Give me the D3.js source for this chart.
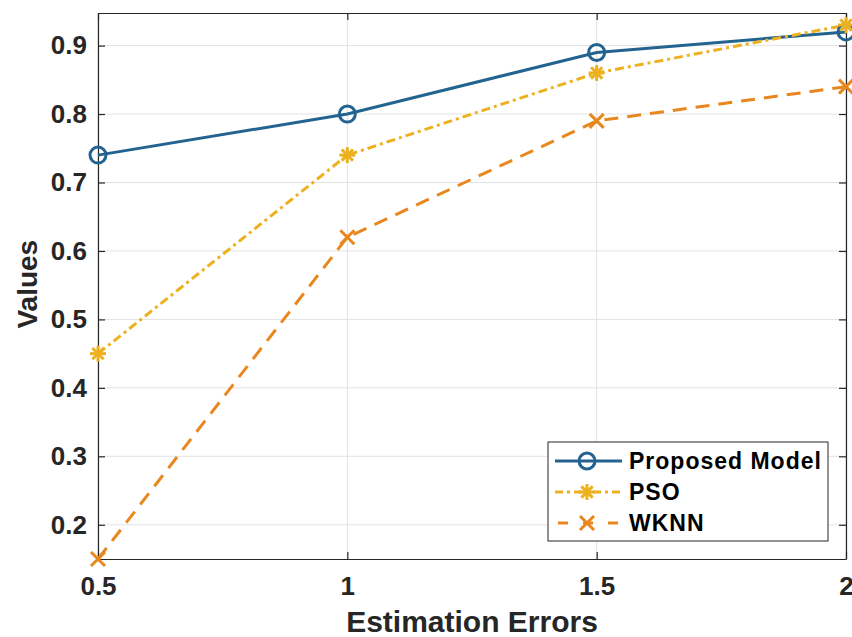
<!DOCTYPE html>
<html>
<head>
<meta charset="utf-8">
<script src="https://cdn.jsdelivr.net/npm/d3@7"></script>
<style>
  body { margin: 0; background: #fff; }
  text { font-family: "Liberation Sans", Arial, sans-serif; font-weight: bold; }
</style>
</head>
<body>
<div id="chart"></div>
<script>
// chart data
const xValues = [0.5, 1, 1.5, 2];
const xTicks = [0.5, 1, 1.5, 2];
const yTicks = [0.2, 0.3, 0.4, 0.5, 0.6, 0.7, 0.8, 0.9];
const proposedModel = [0.74, 0.80, 0.89, 0.92];
const pso = [0.45, 0.74, 0.86, 0.93];
const wknn = [0.15, 0.62, 0.79, 0.84];
const seriesNames = ["Proposed Model", "PSO", "WKNN"];

const width = 852, height = 637;
const margin = {left: 98, right: 6, top: 13, bottom: 78};

const svg = d3.select("#chart").append("svg")
    .attr("width", width)
    .attr("height", height);

const x = d3.scaleLinear().domain([0.5, 2]).range([margin.left, width - margin.right]);
const y = d3.scaleLinear().domain([0.15, 0.9476]).range([height - margin.bottom, margin.top]);

//grid lines
svg.append("g").selectAll("line").data(yTicks).join("line")
    .attr("x1", margin.left).attr("x2", width - margin.right)
    .attr("y1", d => y(d)).attr("y2", d => y(d))
    .attr("stroke", "#e3e3e3").attr("stroke-width", 1);
svg.append("g").selectAll("line").data(xTicks).join("line")
    .attr("x1", d => x(d)).attr("x2", d => x(d))
    .attr("y1", margin.top).attr("y2", height - margin.bottom)
    .attr("stroke", "#e3e3e3").attr("stroke-width", 1);

// axes with inward ticks
const axisColor = "#262626";
const fmt = d => d3.format("")(d);
const xAxis = svg.append("g")
    .attr("transform", `translate(0,${height - margin.bottom})`)
    .call(d3.axisBottom(x).tickValues(xTicks).tickSizeInner(-7).tickSizeOuter(0).tickPadding(18).tickFormat(fmt));
const yAxis = svg.append("g")
    .attr("transform", `translate(${margin.left},0)`)
    .call(d3.axisLeft(y).tickValues(yTicks).tickSizeInner(-7).tickSizeOuter(0).tickPadding(11).tickFormat(fmt));
const xTop = svg.append("g")
    .attr("transform", `translate(0,${margin.top})`)
    .call(d3.axisTop(x).tickValues(xTicks).tickSizeInner(-7).tickSizeOuter(0).tickFormat(""));
const yRight = svg.append("g")
    .attr("transform", `translate(${width - margin.right},0)`)
    .call(d3.axisRight(y).tickValues(yTicks).tickSizeInner(-7).tickSizeOuter(0).tickFormat(""));

[xAxis, yAxis, xTop, yRight].forEach(g => {
    g.attr("font-size", 26).attr("font-family", "Liberation Sans, Arial, sans-serif").attr("font-weight", "bold");
    g.select(".domain").attr("stroke", axisColor).attr("stroke-width", 1.2);
    g.selectAll(".tick line").attr("stroke", axisColor).attr("stroke-width", 1.2);
    g.selectAll(".tick text").attr("fill", axisColor)
        .attr("font-size", 26).style("font-size", "26px");
});

// series
const series = [
    {name: seriesNames[0], values: proposedModel, color: "#22648f", dash: null, marker: "circle"},
    {name: seriesNames[1], values: pso, color: "#EDB120", dash: "9,4,3,4", marker: "asterisk"},
    {name: seriesNames[2], values: wknn, color: "#E8871E", dash: "14,9", marker: "x"}
];

const line = d3.line().x(d => x(d[0])).y(d => y(d[1]));

function drawMarker(g, type, cx, cy, color) {
    if (type == "circle") {
        g.append("circle").attr("cx", cx).attr("cy", cy).attr("r", 8)
            .attr("fill", "none").attr("stroke", color).attr("stroke-width", 3);
    } else if (type == "asterisk") {
        const r = 8;
        for (let a = 0; a < 4; a++) {
            const ang = a * Math.PI / 4;
            g.append("line")
                .attr("x1", cx - r * Math.cos(ang)).attr("y1", cy - r * Math.sin(ang))
                .attr("x2", cx + r * Math.cos(ang)).attr("y2", cy + r * Math.sin(ang))
                .attr("stroke", color).attr("stroke-width", 3);
        }
    } else {
        const r = 7;
        [[1, 1], [1, -1]].forEach(s => {
            g.append("line")
                .attr("x1", cx - r * s[0]).attr("y1", cy - r * s[1])
                .attr("x2", cx + r * s[0]).attr("y2", cy + r * s[1])
                .attr("stroke", color).attr("stroke-width", 3);
        });
    }
}

const plot = svg.append("g");
series.forEach(s => {
    const pts = xValues.map((v, i) => [v, s.values[i]]);
    plot.append("path")
        .attr("d", line(pts))
        .attr("fill", "none")
        .attr("stroke", s.color)
        .attr("stroke-width", 3)
        .attr("stroke-dasharray", s.dash);
});
series.forEach(s => {
    xValues.forEach((v, i) => drawMarker(plot, s.marker, x(v), y(s.values[i]), s.color));
});

// axis labels
svg.append("text")
    .attr("x", x(1.25))
    .attr("y", 632)
    .attr("text-anchor", "middle")
    .attr("fill", axisColor)
    .style("font-size", "30px")
    .text("Estimation Errors");

svg.append("text")
    .attr("transform", `translate(37,${y(0.55) - 1}) rotate(-90)`)
    .attr("text-anchor", "middle")
    .attr("fill", axisColor)
    .style("font-size", "28px")
    .text("Values");

// legend
const legend = svg.append("g").attr("transform", "translate(548,442)");
legend.append("rect")
    .attr("width", 280).attr("height", 99)
    .attr("fill", "#fff").attr("stroke", "#262626").attr("stroke-width", 1);
series.forEach((s, i) => {
    const ly = 19 + i * 31;
    legend.append("line")
        .attr("x1", 7).attr("x2", 74).attr("y1", ly).attr("y2", ly)
        .attr("stroke", s.color).attr("stroke-width", 3)
        .attr("stroke-dasharray", s.dash == null ? null : (i == 1 ? "8,4,3,4" : "10,15"))
        .attr("stroke-dashoffset", i == 2 ? -3 : 0);
    drawMarker(legend, s.marker, 39, ly, s.color);
    legend.append("text")
        .attr("x", 81).attr("y", ly + 8)
        .attr("fill", "#000")
        .style("font-size", "23px")
        .style("letter-spacing", "1px")
        .text(s.name);
});
</script>
</body>
</html>
